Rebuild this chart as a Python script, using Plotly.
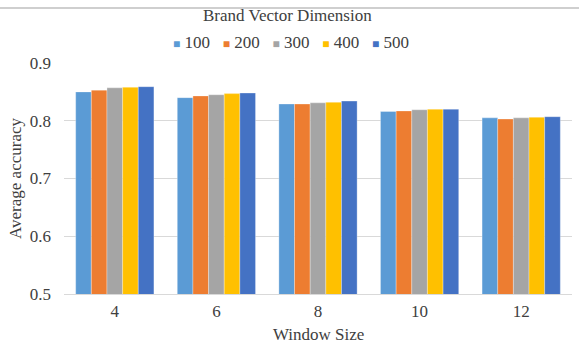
import plotly.graph_objects as go

window_sizes = ["4", "6", "8", "10", "12"]
dimensions = ["100", "200", "300", "400", "500"]

acc_100 = [0.850, 0.840, 0.829, 0.816, 0.805]
acc_200 = [0.853, 0.843, 0.829, 0.817, 0.803]
acc_300 = [0.857, 0.845, 0.831, 0.819, 0.805]
acc_400 = [0.858, 0.847, 0.832, 0.820, 0.806]
acc_500 = [0.859, 0.848, 0.834, 0.820, 0.807]
series = [acc_100, acc_200, acc_300, acc_400, acc_500]

colors = ["#5B9BD5", "#ED7D31", "#A5A5A5", "#FFC000", "#4472C4"]
serif = "Liberation Serif, Times New Roman, serif"
txt = "#404040"
fs = 17

fig = go.Figure()
for name, vals, col in zip(dimensions, series, colors):
    fig.add_trace(go.Bar(
        x=window_sizes, y=vals, name=name, showlegend=False,
        marker=dict(color=col, line=dict(color="rgba(255,255,255,0.5)", width=0.6)),
    ))

fig.update_layout(
    width=579, height=345,
    margin=dict(l=64, r=7, t=63, b=51),
    paper_bgcolor="white", plot_bgcolor="white",
    font=dict(family=serif, size=fs, color=txt),
    barmode="group", bargap=0.23, bargroupgap=0,
    showlegend=False,
    xaxis=dict(
        showgrid=False, showline=True, linecolor="#D9D9D9", linewidth=1,
        ticks="", ticklabelstandoff=2, automargin=False,
        tickfont=dict(family=serif, size=fs, color=txt),
    ),
    yaxis=dict(
        range=[0.5, 0.9], dtick=0.1, tickformat=".1f",
        showgrid=True, gridcolor="#D9D9D9", gridwidth=1,
        zeroline=False, showline=False, ticks="",
        ticklabelstandoff=12, automargin=False,
        tickfont=dict(family=serif, size=fs, color=txt),
        title=dict(text="Average accuracy", font=dict(family=serif, size=fs, color=txt), standoff=3),
    ),
)

# x-axis title, set just below the tick labels
fig.add_annotation(
    text="Window Size", x=0.5, xref="paper", y=0, yref="paper",
    yshift=-40, yanchor="middle", showarrow=False, borderpad=0,
    font=dict(family=serif, size=fs, color=txt),
)

# legend title
fig.add_annotation(
    text="Brand Vector Dimension", x=0.44, xref="paper", y=1.0, yref="paper",
    yshift=48, yanchor="middle", showarrow=False,
    font=dict(family=serif, size=fs, color=txt),
)

# compact legend row: a small coloured square key before each dimension label
nb = "\u00a0"
keys = (nb * 3).join(
    f"<span style='color:{c};font-size:12px'>\u25A0</span>{nb}{d}"
    for d, c in zip(dimensions, colors)
)
fig.add_annotation(
    text=keys, x=0.447, xref="paper", y=1.0, yref="paper",
    yshift=21, yanchor="middle", showarrow=False,
    font=dict(family=serif, size=fs, color=txt),
)

# thin frame line across the top of the chart area
fig.add_shape(type="line", xref="paper", yref="paper", x0=-0.13, x1=1.02,
              y0=1.238, y1=1.238, line=dict(color="#BFBFBF", width=1.5))

fig.write_html("out.html")
